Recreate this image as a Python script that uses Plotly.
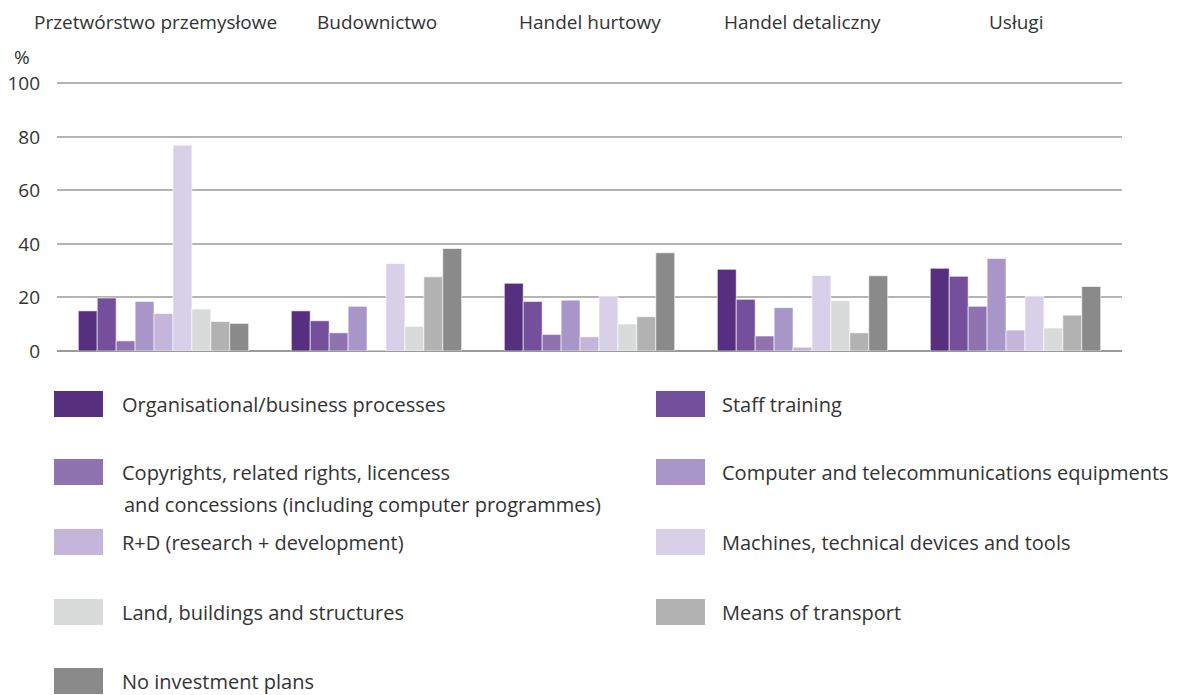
import plotly.graph_objects as go

sectors = ["Przetwórstwo przemysłowe", "Budownictwo", "Handel hurtowy",
           "Handel detaliczny", "Usługi"]

series_names = [
    "Organisational/business processes",
    "Staff training",
    "Copyrights, related rights, licencess<br>and concessions (including computer programmes)",
    "Computer and telecommunications equipments",
    "R+D (research + development)",
    "Machines, technical devices and tools",
    "Land, buildings and structures",
    "Means of transport",
    "No investment plans",
]

org_processes = [15.0, 15.0, 25.3, 30.5, 30.9]
staff_training = [19.8, 11.3, 18.5, 19.3, 27.9]
copyrights = [3.8, 6.8, 6.2, 5.6, 16.7]
computers = [18.5, 16.7, 19.0, 16.2, 34.6]
research = [14.0, 0.0, 5.3, 1.4, 7.8]
machines = [76.9, 32.7, 20.4, 28.2, 20.4]
land_buildings = [15.7, 9.2, 10.1, 18.8, 8.6]
transport = [11.0, 27.7, 12.8, 6.8, 13.4]
no_investment = [10.3, 38.3, 36.7, 28.1, 24.1]

values = [org_processes, staff_training, copyrights, computers, research,
          machines, land_buildings, transport, no_investment]

colors = ["#56307f", "#744f9b", "#8f73b0", "#a996c8", "#c4b5da",
          "#d8d0e8", "#d9dbda", "#b1b2b1", "#8a8a8a"]

# page body has an 8px margin, so shrink the figure and shift everything
OFF = 8
W, H = 1184 - OFF, 695 - OFF
L, R, T, B = 57 - OFF, 62, 74, 344
PW, PH = W - L - R, H - T - B
FONT = "Open Sans"
TXT = "#333333"


def px(x):
    # x in reference-page pixels -> paper coords
    return (x - OFF - L) / PW


def py(y):
    return (H - B - (y - OFF)) / PH


fig = go.Figure()
for name, vals, col in zip(series_names, values, colors):
    fig.add_trace(go.Bar(
        x=sectors, y=vals, name=name.replace("<br>", " "),
        marker=dict(color=col, line=dict(color="rgba(255,255,255,0.6)", width=1)),
        showlegend=False,
    ))

# sector labels above the plot
annotations = []
for i, s in enumerate(sectors):
    annotations.append(dict(x=s, xref="x", y=py(22), yref="paper",
                            text=s, showarrow=False, yanchor="middle",
                            xshift=-8 if i == 0 else 0,
                            font=dict(size=19, color=TXT, family=FONT)))
annotations.append(dict(x=px(22), y=py(57), xref="paper", yref="paper",
                        text="%", showarrow=False, xanchor="center",
                        yanchor="middle",
                        font=dict(size=19, color=TXT, family=FONT)))

# custom legend: two columns, big swatches
shapes = []
row_y = [404, 472, 542, 612, 681]
col_x = [(54, 120), (656, 720)]
for i, (name, col) in enumerate(zip(series_names, colors)):
    r, c = divmod(i, 2)
    sx, tx = col_x[c]
    cy = row_y[r]
    shapes.append(dict(type="rect", xref="paper", yref="paper",
                       x0=px(sx), x1=px(sx + 49), y0=py(cy - 13), y1=py(cy + 13),
                       fillcolor=col, line=dict(width=0)))
    for k, line in enumerate(name.split("<br>")):
        annotations.append(dict(x=px(tx + (2 if k else 0)), y=py(cy + 33 * k),
                                xref="paper", yref="paper", text=line,
                                showarrow=False, xanchor="left", yanchor="middle",
                                font=dict(size=20, color=TXT, family=FONT)))

fig.update_layout(
    width=W, height=H,
    margin=dict(l=L, r=R, t=T, b=B, autoexpand=False),
    barmode="group", bargap=0.2, bargroupgap=0,
    plot_bgcolor="white", paper_bgcolor="white",
    font=dict(family=FONT, color=TXT, size=19),
    xaxis=dict(range=[-0.5, 4.5], showticklabels=False, showgrid=False,
               zeroline=False, showline=False, ticks="", automargin=False),
    yaxis=dict(range=[0, 100.5], tickvals=[0, 20, 40, 60, 80, 100],
               showgrid=True, gridcolor="#b4b4b4", automargin=False,
               gridwidth=1.5, zeroline=True, zerolinecolor="#999999",
               zerolinewidth=1.5, ticks="", ticklabelstandoff=16,
               tickfont=dict(size=19, color=TXT, family=FONT)),
    shapes=shapes,
    annotations=annotations,
)

fig.write_html("out.html")
